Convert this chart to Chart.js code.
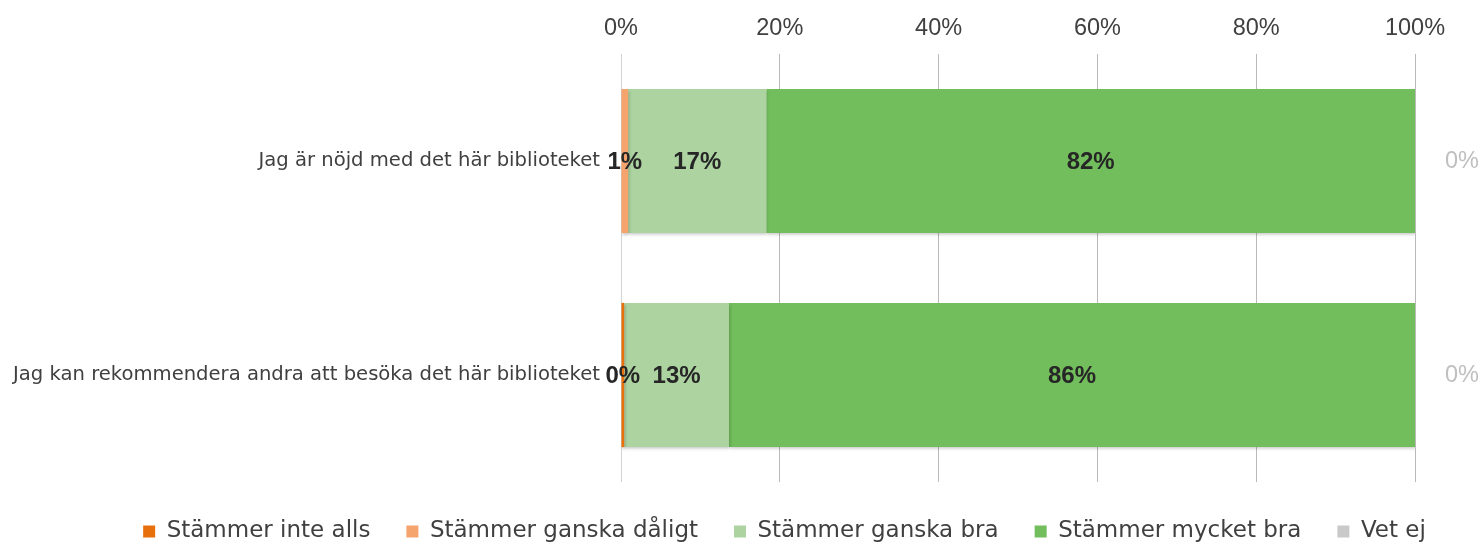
<!DOCTYPE html>
<html>
<head>
<meta charset="utf-8">
<script src="https://cdn.jsdelivr.net/npm/chart.js@4.4.1/dist/chart.umd.min.js"></script>
<style>
  html, body { margin: 0; padding: 0; background: #fff; }
  #wrap { width: 1483px; height: 545px; position: relative; }
</style>
</head>
<body>
<div id="wrap"><canvas id="survey"></canvas></div>
<script>
var questions = ['Jag är nöjd med det här biblioteket', 'Jag kan rekommendera andra att besöka det här biblioteket'];
var answers = ['Stämmer inte alls', 'Stämmer ganska dåligt', 'Stämmer ganska bra', 'Stämmer mycket bra', 'Vet ej'];

// percent per question
var inteAlls = [0, 0.4];
var ganskaDaligt = [0.9, 0];
var ganskaBra = [17.4, 13.2];
var mycketBra = [81.7, 86.4];
var vetEj = [0, 0];

var xTicks = [0, 20, 40, 60, 80, 100];
var colors = ['#e8700c', '#f6a46e', '#acd3a0', '#72bd5c', '#c9c9c9'];

Chart.defaults.font.family = '"Liberation Sans", Arial, sans-serif';

var ctx = document.getElementById('survey').getContext('2d');

// soft shadow under the bar segments
var barShadow = {
  id: 'barShadow',
  beforeDatasetsDraw: function (chart) {
    var c = chart.ctx;
    c.save();
    c.shadowColor = 'rgba(0,0,0,0.22)';
    c.shadowBlur = 3;
    c.shadowOffsetX = 1;
    c.shadowOffsetY = 2;
  },
  afterDatasetsDraw: function (chart) {
    chart.ctx.restore();
  }
};

var valueLabels = {
  id: 'valueLabels',
  afterDatasetsDraw: function (chart) {
    var c = chart.ctx;
    c.save();
    c.textAlign = 'center';
    c.textBaseline = 'middle';
    chart.data.datasets.forEach(function (ds, i) {
      chart.getDatasetMeta(i).data.forEach(function (bar, j) {
        var v = ds.data[j];
        var txt = Math.round(v) + '%';
        if (i === 4) {
          // "Vet ej" is written outside the bar
          c.font = '23.5px "Liberation Sans"';
          c.fillStyle = '#bfbfbf';
          c.fillText(txt, chart.chartArea.right + 47, bar.y + 1);
        } else if (v > 0) {
          c.font = 'bold 24px "Liberation Sans"';
          c.fillStyle = '#262626';
          c.fillText(txt, (bar.x + bar.base) / 2, bar.y + 1);
        }
      });
    });
    c.restore();
  }
};

// keep the legend low and centred like the original
var legendPlace = {
  id: 'legendPlace',
  afterInit: function (chart) {
    var lg = chart.legend;
    var fit = lg.fit;
    lg.fit = function () {
      fit.call(this);
      this.height = 63;
    };
  },
  afterLayout: function (chart) {
    var lg = chart.legend;
    lg.top = 484;
    lg.bottom = 545;
    lg.left = 86;
    lg.right = 1483;
  }
};

var data = {
  labels: questions,
  datasets: [
    { label: answers[0], data: inteAlls, backgroundColor: colors[0] },
    { label: answers[1], data: ganskaDaligt, backgroundColor: colors[1] },
    { label: answers[2], data: ganskaBra, backgroundColor: colors[2] },
    { label: answers[3], data: mycketBra, backgroundColor: colors[3] },
    { label: answers[4], data: vetEj, backgroundColor: colors[4] }
  ]
};
data.datasets.forEach(function (ds) {
  ds.borderWidth = 0;
  ds.barPercentage = 0.674;
  ds.categoryPercentage = 1;
});

var chart = new Chart(ctx, {
  type: 'bar',
  data: data,
  plugins: [barShadow, valueLabels, legendPlace],
  options: {
    indexAxis: 'y',
    responsive: true,
    maintainAspectRatio: false,
    animation: false,
    events: [],
    layout: { padding: { left: 0, right: 68, top: 0, bottom: 0 } },
    scales: {
      x: {
        position: 'top',
        stacked: true,
        min: 0,
        max: 100,
        afterFit: function (s) { s.height = 54; },
        afterBuildTicks: function (s) {
          s.ticks = xTicks.map(function (v) { return { value: v }; });
        },
        grid: {
          drawTicks: false,
          color: function (c) { return c.tick && c.tick.value === 0 ? '#d4d4d4' : '#b9b9b9'; }
        },
        border: { display: false },
        ticks: {
          padding: 11,
          color: '#404040',
          font: { size: 23.5 },
          maxRotation: 0,
          callback: function (v) { return v + '%'; }
        }
      },
      y: {
        stacked: true,
        afterFit: function (s) { s.width = 621; },
        grid: { display: false, drawTicks: false },
        border: { display: false },
        ticks: {
          padding: 21,
          color: '#404040',
          font: { family: '"DejaVu Sans"', size: 19.6 }
        }
      }
    },
    plugins: {
      tooltip: { enabled: false },
      legend: {
        position: 'bottom',
        labels: {
          boxWidth: 12,
          boxHeight: 12,
          padding: 36,
          color: '#404040',
          font: { family: '"DejaVu Sans"', size: 23 }
        }
      }
    }
  }
});
</script>
</body>
</html>
